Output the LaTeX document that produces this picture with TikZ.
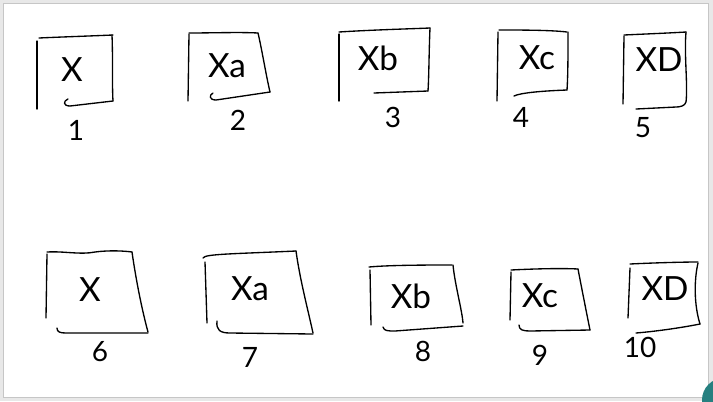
\documentclass[tikz,border=0pt]{standalone}
\usepackage{fontspec}
\setmainfont{Lato}
\begin{document}
\begin{tikzpicture}[x=0.75pt,y=-0.75pt,
  pen/.style={draw=black,line width=1.0pt,line cap=round,line join=round},
  lbl/.style={inner sep=0pt,font=\fontsize{25}{25}\selectfont},
  num/.style={inner sep=0pt,font=\fontsize{21}{21}\selectfont}]
% window frame
\fill[gray!18] (0,0) rectangle (713,401);
\fill[white,draw=gray!45,line width=0.6pt] (3,3) rectangle (708,397);
\useasboundingbox (0,0) rectangle (713,401);
% ---------- top row ----------
% box 1
\draw[pen] (37,41) -- (37,109);
\draw[pen] (39,38) .. controls (60,37) and (90,36) .. (113,35);
\draw[pen] (112,35) .. controls (113,60) and (112,85) .. (113,101);
\draw[pen] (68,99) .. controls (63,101) and (63,106) .. (70,106) -- (113,101);
\node[lbl] (t1) at (72,70) {X};
\node[num] (n1) at (76,130) {1};
% box 2
\draw[pen] (189,34) -- (188,101);
\draw[pen] (189,33) .. controls (210,33) and (240,32) .. (258,33);
\draw[pen] (258,33) .. controls (262,50) and (266,75) .. (270,92);
\draw[pen] (213,93) .. controls (209,95) and (209,100) .. (216,100) -- (270,92);
\node[lbl] (t2) at (227,66) {Xa};
\node[num] (n2) at (238,120) {2};
% box 3
\draw[pen] (339,34) -- (339,101);
\draw[pen] (339,32) .. controls (370,30) and (405,29) .. (430,28);
\draw[pen] (430,28) .. controls (429,50) and (429,75) .. (428,91);
\draw[pen] (374,93) -- (428,91);
\node[lbl] (t3) at (378,58) {Xb};
\node[num] (n3) at (393,117) {3};
% box 4
\draw[pen] (498,32) -- (497,101);
\draw[pen] (499,30) .. controls (520,30) and (550,30) .. (567,32);
\draw[pen] (568,32) .. controls (568,55) and (568,75) .. (567,90);
\draw[pen] (514,96) .. controls (520,93) and (540,91) .. (567,90);
\node[lbl] (t4) at (537,58) {Xc};
\node[num] (n4) at (521,117) {4};
% box 5
\draw[pen] (624,36) -- (623,104);
\draw[pen] (624,35) .. controls (645,34) and (670,33) .. (686,32);
\draw[pen] (686,32) .. controls (684,55) and (688,85) .. (686,102) .. controls (685,106) and (680,107) .. (676,107) -- (636,109);
\node[lbl] (t5) at (659,60) {XD};
\node[num] (n5) at (643,128) {5};
% ---------- bottom row ----------
% box 6
\draw[pen] (47,254) -- (46,318);
\draw[pen] (47,252) .. controls (65,251) and (80,255) .. (95,252) .. controls (110,250) and (125,251) .. (132,252);
\draw[pen] (132,252) .. controls (136,280) and (142,310) .. (148,332);
\draw[pen] (57,328) .. controls (57,332) and (60,333) .. (66,333) -- (148,333);
\node[lbl] (t6) at (90,290) {X};
\node[num] (n6) at (100,352) {6};
% box 7
\draw[pen] (205,262) -- (207,323);
\draw[pen] (203,258) .. controls (205,254) and (230,254) .. (296,251);
\draw[pen] (296,251) .. controls (300,280) and (308,310) .. (313,333);
\draw[pen] (217,321) .. controls (216,330) and (220,333) .. (230,333) -- (313,334);
\node[lbl] (t7) at (250,289) {Xa};
\node[num] (n7) at (250,357) {7};
% box 8
\draw[pen] (370,270) -- (371,325);
\draw[pen] (369,267) .. controls (390,265) and (430,265) .. (452,265);
\draw[pen] (453,265) .. controls (455,285) and (462,310) .. (463,323);
\draw[pen] (383,327) .. controls (384,331) and (388,331) .. (395,331) -- (463,326);
\node[lbl] (t8) at (411,296) {Xb};
\node[num] (n8) at (423,351) {8};
% box 9
\draw[pen] (511,272) -- (510,320);
\draw[pen] (511,270) .. controls (530,269) and (560,268) .. (578,269);
\draw[pen] (578,269) .. controls (582,290) and (587,315) .. (590,330);
\draw[pen] (519,325) .. controls (519,330) and (523,331) .. (530,331) -- (590,330);
\node[lbl] (t9) at (540,296) {Xc};
\node[num] (n9) at (540,355) {9};
% box 10
\draw[pen] (630,268) -- (628,318);
\draw[pen] (630,264) .. controls (650,263) and (680,262) .. (698,262);
\draw[pen] (698,263) .. controls (694,280) and (694,305) .. (700,324);
\draw[pen] (700,324) .. controls (685,327) and (660,331) .. (636,333);
\node[lbl] (t10) at (665,289) {XD};
\node[num] (n10) at (640,347) {10};
% corner badge
\begin{scope}
\clip (0,0) rectangle (713,401);
\fill[teal!70!gray] (724,400) circle (22);
\end{scope}
\end{tikzpicture}
\end{document}
